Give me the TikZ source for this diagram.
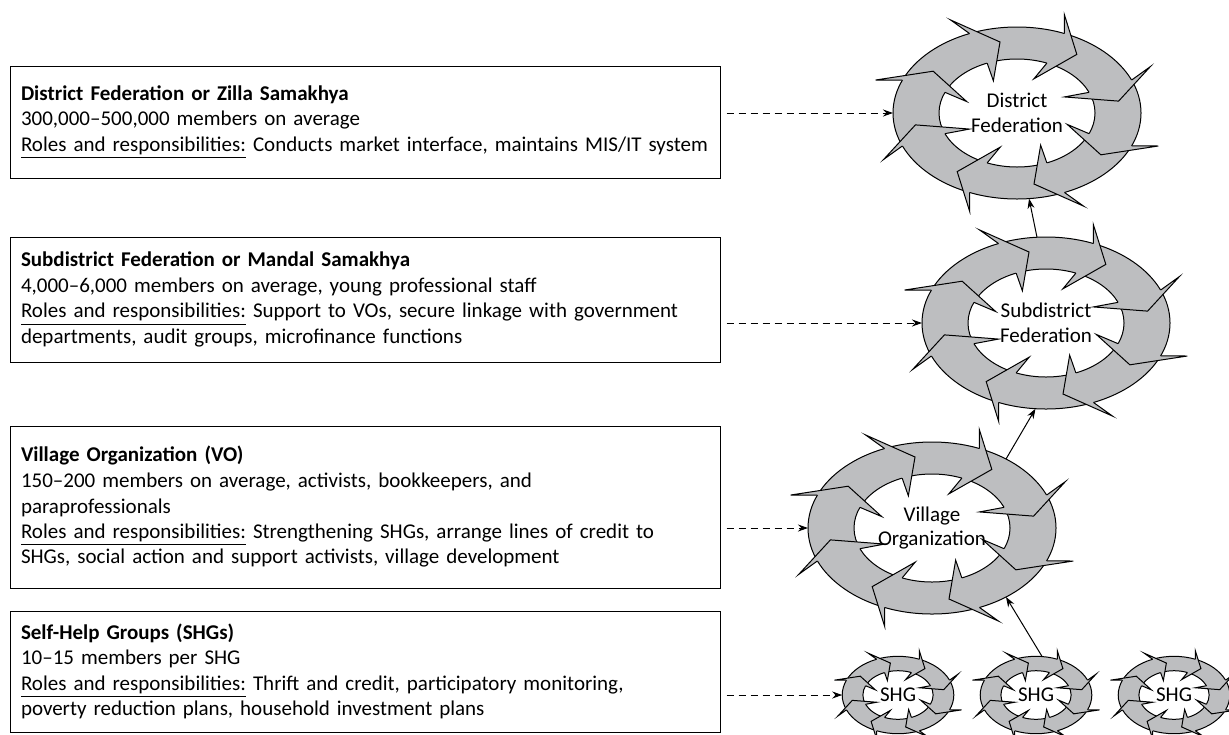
\documentclass[tikz,border=0pt]{standalone}
\usepackage{fontspec}
\setmainfont{Carlito}
\usetikzlibrary{arrows.meta,shapes.geometric}
\pgfdeclarelayer{background}
\pgfsetlayers{background,main}
\definecolor{ringgray}{RGB}{189,190,192}

\tikzset{
  infobox/.style={draw=black,line width=0.5pt,rectangle,text width=344pt,
    inner xsep=5.5pt,inner ysep=0pt,align=left,
    font=\fontsize{10.5}{12.75}\selectfont},
  ringnode/.style={ellipse,minimum width=124pt,minimum height=86pt,inner sep=0pt,
    outer sep=0pt,align=center,font=\fontsize{10.5}{12.5}\selectfont},
  shgnode/.style={ellipse,minimum width=55.8pt,minimum height=38.7pt,inner sep=0pt,
    outer sep=0pt,font=\fontsize{10.5}{12.5}\selectfont},
  dasharrow/.style={dash pattern=on 3.5pt off 2.5pt,shorten <=3pt},
  pics/cyclering/.style={code={
    \filldraw[fill=ringgray,draw=black,line width=0.5pt,even odd rule]
      (0,0) ellipse [x radius=124,y radius=86] (0,0) ellipse [x radius=78,y radius=54];
    \foreach \t in {22.5,67.5,...,337.5}{
      \coordinate (o) at ({124*cos(\t)},{86*sin(\t)});
      \coordinate (ob) at ({149*cos(\t-4)},{104*sin(\t-4)});
      \coordinate (tp) at ({103*cos(\t+13)},{72*sin(\t+13)});
      \coordinate (ib) at ({53*cos(\t-4)},{36*sin(\t-4)});
      \coordinate (i) at ({78*cos(\t)},{54*sin(\t)});
      \fill[ringgray] (o) -- (ob) -- (tp) -- (ib) -- (i) -- cycle;
      \draw[line width=0.5pt] (o) -- (ob) -- (tp) -- (ib) -- (i);
    }
  }}
}

\begin{document}
\begin{tikzpicture}[x=0.5pt,y=-0.5pt]
\useasboundingbox (0,0) rectangle (1229,734);

% text boxes
\begin{scope}[every node/.style={infobox}]
    \node[minimum height=56pt] (df) at (365,122) {\textbf{District Federation or Zilla Samakhya}\\
      300,000–500,000 members on average\\
      \underline{Roles and responsibilities:} Conducts market interface, maintains MIS/IT system};
    \node[minimum height=62.5pt] (sa) at (365,299.5) {\textbf{Subdistrict Federation or Mandal Samakhya}\\
      4,000–6,000 members on average, young professional staff\\
      \underline{Roles and responsibilities:} Support to VOs, secure linkage with government\\
      departments, audit groups, microfinance functions};
    \node[minimum height=81pt] (vo) at (365,507) {\textbf{Village Organization (VO)}\\
      150–200 members on average, activists, bookkeepers, and\\
      paraprofessionals\\
      \underline{Roles and responsibilities:} Strengthening SHGs, arrange lines of credit to\\
      SHGs, social action and support activists, village development};
    \node[minimum height=60.5pt] (shg) at (365,671.5) {\textbf{Self-Help Groups (SHGs)}\\
      10–15 members per SHG\\
      \underline{Roles and responsibilities:} Thrift and credit, participatory monitoring,\\
      poverty reduction plans, household investment plans};
\end{scope}

% rings
\node[ringnode] (DF) at (1017,113) {District\\Federation};
\node[ringnode] (SA) at (1046,323) {Subdistrict\\Federation};
\node[ringnode] (VO) at (932,528) {Village\\Organization};
\begin{scope}[every node/.style={shgnode}]
    \node (SHG1) at (898,695) {SHG};
    \node (SHG2) at (1036,695) {SHG};
    \node (SHG3) at (1174,695) {SHG};
\end{scope}

\begin{pgfonlayer}{background}
    \foreach \r in {DF,SA,VO} \pic at (\r) {cyclering};
    \foreach \r in {SHG1,SHG2,SHG3} \pic[scale=0.45] at (\r) {cyclering};
\end{pgfonlayer}

\begin{scope}[>={Stealth[black,length=5pt,width=3.5pt]},
              every edge/.style={draw=black,line width=0.5pt}]
    \path [->] (df.east |- DF.west) edge[dasharrow] (DF.west);
    \path [->] (sa.east |- SA.west) edge[dasharrow] (SA.west);
    \path [->] (vo.east |- VO.west) edge[dasharrow] (VO.west);
    \path [->] (shg.east |- SHG1.west) edge[dasharrow] (SHG1.west);
    \path [->] (SHG2.81) edge (VO.-43);
    \path [->] (VO.43) edge (SA.263);
    \path [->] (SA.96) edge (DF.278);
\end{scope}
\end{tikzpicture}
\end{document}
